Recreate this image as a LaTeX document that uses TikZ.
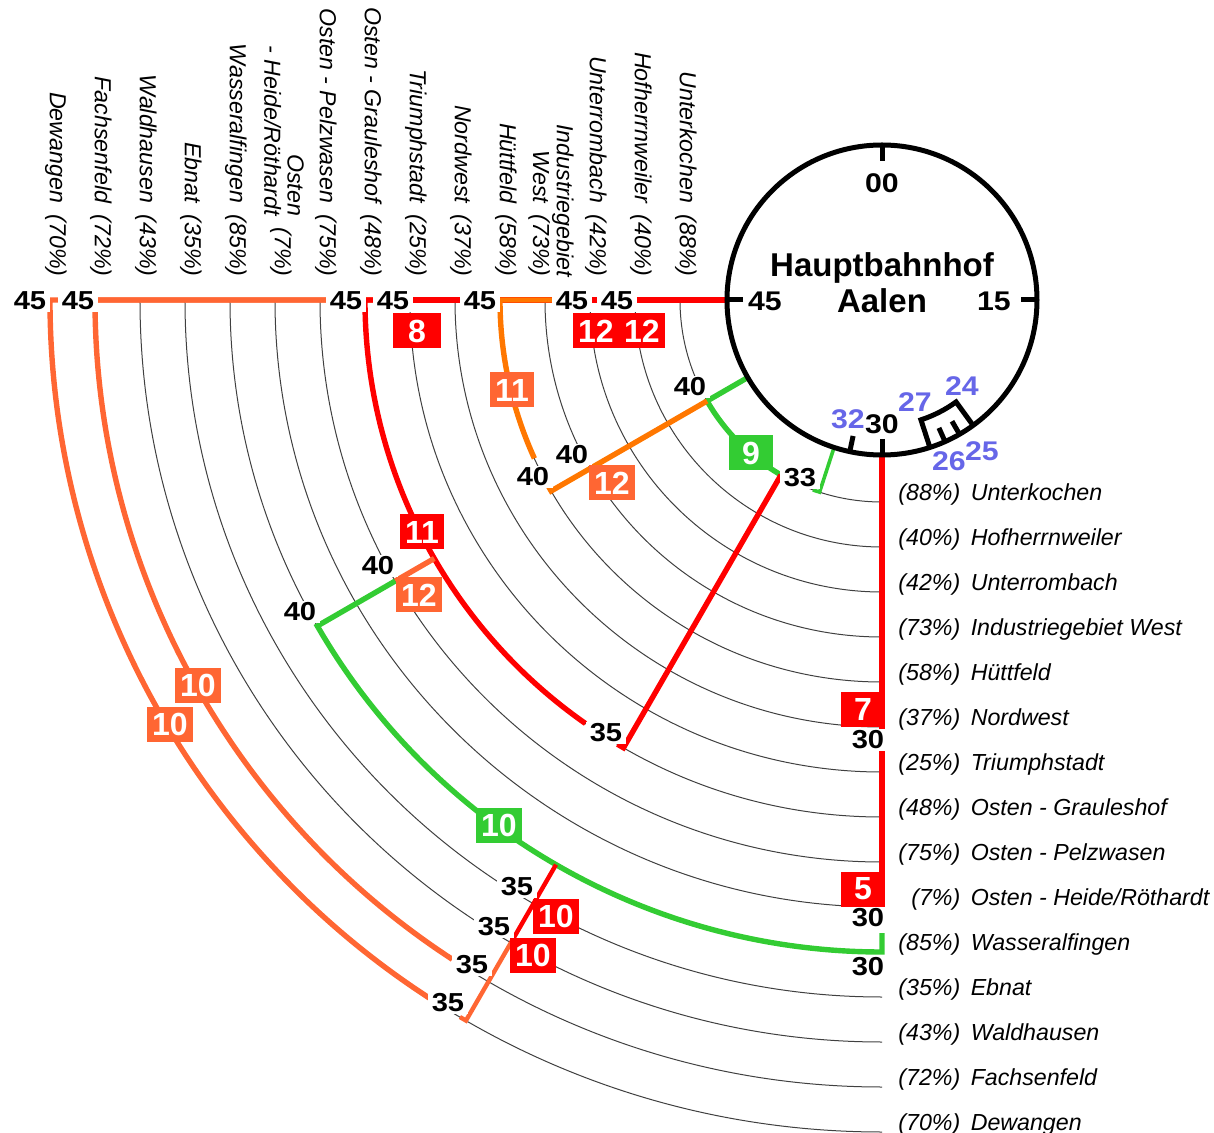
\documentclass[tikz,border=0pt]{standalone}
\usepackage{fontspec}
\setmainfont{Liberation Sans}
\newfontfamily\timefont[FakeStretch=1.12]{Liberation Sans}

\definecolor{busred}{RGB}{255,0,0}
\definecolor{busorange}{RGB}{255,119,0}
\definecolor{bussalmon}{RGB}{255,102,51}
\definecolor{busgreen}{RGB}{51,204,51}
\definecolor{minblue}{RGB}{102,102,232}

\tikzset{
  thinarc/.style={line width=0.5pt, black!75},
  route/.style={line width=2.7pt, draw=#1},
  dest/.style={font=\fontsize{11.6}{10.5}\selectfont\itshape, inner sep=0pt},
  timelabel/.style={fill=white, inner xsep=2pt, inner ysep=1pt, font=\timefont\fontsize{13}{13}\selectfont\bfseries},
  travel/.style={fill=#1, text=white, font=\fontsize{16}{16}\selectfont\bfseries,
    minimum width=22pt, minimum height=17.5pt, inner xsep=2.5pt, inner ysep=0pt},
  clocknum/.style={font=\timefont\fontsize{13.5}{13.5}\selectfont\bfseries, inner sep=0pt},
}

\begin{document}
\begin{tikzpicture}[x=0.5pt, y=-0.5pt]
    \useasboundingbox (-882,-300) rectangle (332,833);
    % one thin arc per destination, named on top and on the right
    \foreach \name/\toptext/\pct [count=\i from 0] in {
        Unterkochen/Unterkochen/88,
        Hofherrnweiler/Hofherrnweiler/40,
        Unterrombach/Unterrombach/42,
        Industriegebiet West/{Industriegebiet\\West}/73,
        Hüttfeld/Hüttfeld/58,
        Nordwest/Nordwest/37,
        Triumphstadt/Triumphstadt/25,
        Osten - Grauleshof/Osten - Grauleshof/48,
        Osten - Pelzwasen/Osten - Pelzwasen/75,
        {Osten - Heide/Röthardt}/{\begin{tabular}{@{}r@{}}Osten\\- Heide/Röthardt\end{tabular}}/7,
        Wasseralfingen/Wasseralfingen/85,
        Ebnat/Ebnat/35,
        Waldhausen/Waldhausen/43,
        Fachsenfeld/Fachsenfeld/72,
        Dewangen/Dewangen/70}
    {
        \pgfmathsetmacro{\rad}{202+45*\i}
        \draw[thinarc] (180:\rad) arc (180:90:\rad);
        \node[dest, align=right, rotate=-90, anchor=east] (top\i) at (-\rad+6,-23) {\toptext\hspace{0.5em}(\pct\%)};
        \node[dest, anchor=base west] (dest\i) at (16,\rad-1.5) {\makebox[2.67em][r]{(\pct\%)}\hspace{0.45em}\name};
    }

    % buses leaving at 45
    \draw[route=bussalmon] (180:155) -- (180:832) arc (180:122.8:832);
    \draw[route=bussalmon] (180:155) -- (180:787) arc (180:123.1:787);
    \draw[route=busred] (180:155) -- (180:517) arc (180:125:517);
    \draw[route=busred] (180:155) -- (180:472);
    \draw[route=busorange] (180:155) -- (180:382) arc (180:155.5:382);
    \draw[route=busred] (180:155) -- (180:292);

    % leaving at 40
    \draw[route=busgreen] (150:155) -- (150:202) arc (150:120:202);
    \draw[route=busorange] (150:202) -- (150:382) -- ++(240:7);
    \draw[route=bussalmon] (150:517) -- (150:562);
    \draw[route=busgreen] (150:562) -- (150:652) arc (150:90:652) -- (90:633);

    % leaving at 35 and 33
    \draw[route=busred] (120:202) -- (120:517) -- ++(210:7);
    \draw[route=busred, line width=2.2pt] (120:652) -- (120:742);
    \draw[route=bussalmon, line width=2.2pt] (120:742) -- (120:832) -- ++(210:7);
    \draw[route=busgreen, line width=1.8pt] (108:155) -- (108:202) -- ++(198:7);

    % leaving at 30
    \draw[route=busred] (90:155) -- (90:607);

    % the station clock
    \draw[line width=2.5pt, fill=white] (0,0) circle (155);
    \foreach \a in {0,90,180,270}
        \draw[line width=2.5pt] (\a:139) -- (\a:157);
    \draw[line width=2.5pt] (102:139) -- (102:155);
    \draw[line width=2.5pt] (54:155) -- (54:126) arc (54:72:126) -- (72:155);
    \draw[line width=2.5pt] (60:155) -- (60:140) (66:155) -- (66:140);

    \node[font=\fontsize{16.5}{16.5}\selectfont\bfseries, anchor=base] (hbf) at (0,-23) {Hauptbahnhof};
    \node[font=\fontsize{16.5}{16.5}\selectfont\bfseries, anchor=base] (aalen) at (0,13) {Aalen};
    \node[clocknum] (c00) at (0,-117) {00};
    \node[clocknum] (c15) at (112,1) {15};
    \node[clocknum] (c30) at (0,124) {30};
    \node[clocknum] (c45) at (-117,1) {45};
    \node[clocknum, text=minblue] (c32) at (-34,119) {32};
    \node[clocknum, text=minblue] (c27) at (33,102) {27};
    \node[clocknum, text=minblue] (c24) at (80,86) {24};
    \node[clocknum, text=minblue] (c25) at (100,151) {25};
    \node[clocknum, text=minblue] (c26) at (67,161) {26};

    % departure and arrival minutes
    \node[timelabel] (d45a) at (-852,1) {45};
    \node[timelabel] (d45b) at (-804,1) {45};
    \node[timelabel] (d45c) at (-536,1) {45};
    \node[timelabel] (d45d) at (-489,1) {45};
    \node[timelabel] (d45e) at (-402,1) {45};
    \node[timelabel] (d45f) at (-310,1) {45};
    \node[timelabel] (d45g) at (-265,1) {45};
    \node[timelabel] (d40a) at (-192,87) {40};
    \node[timelabel] (d40b) at (-310,155) {40};
    \node[timelabel] (d40c) at (-349,177) {40};
    \node[timelabel] (d40d) at (-504,266) {40};
    \node[timelabel] (d40e) at (-582,312) {40};
    \node[timelabel] (d33) at (-82,178) {33};
    \node[timelabel] (d35a) at (-276,433) {35};
    \node[timelabel] (d35b) at (-365,587) {35};
    \node[timelabel] (d35c) at (-388,627) {35};
    \node[timelabel] (d35d) at (-410,665) {35};
    \node[timelabel] (d35e) at (-434,703) {35};
    \node[timelabel] (d30a) at (-14,440) {30};
    \node[timelabel] (d30b) at (-14,618) {30};
    \node[timelabel] (d30c) at (-14,667) {30};

    % travel times
    \node[travel=busred, minimum width=24pt] (t8) at (-465,31) {8};
    \node[travel=busred] (t12a) at (-286,31) {12};
    \node[travel=busred] (t12b) at (-240,31) {12};
    \node[travel=bussalmon] (t11a) at (-370,90) {11};
    \node[travel=bussalmon] (t12c) at (-270,183) {12};
    \node[travel=busgreen] (t9) at (-131,153) {9};
    \node[travel=busred] (t11b) at (-460,232) {11};
    \node[travel=bussalmon] (t12d) at (-463,295) {12};
    \node[travel=bussalmon] (t10a) at (-684,385) {10};
    \node[travel=bussalmon] (t10b) at (-712,424) {10};
    \node[travel=busgreen] (t10c) at (-383,525) {10};
    \node[travel=busred] (t10d) at (-326,616) {10};
    \node[travel=busred] (t10e) at (-349,655) {10};
    \node[travel=busred] (t7) at (-19,409) {7};
    \node[travel=busred] (t5) at (-19,589) {5};
\end{tikzpicture}
\end{document}
